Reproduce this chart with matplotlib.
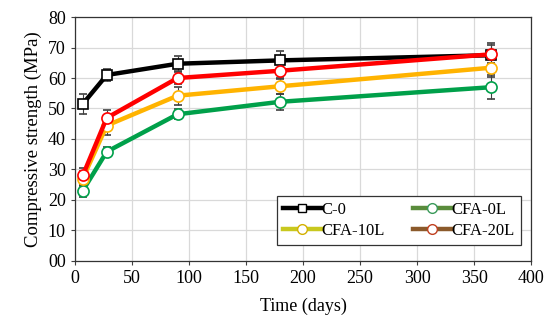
import numpy as np
import matplotlib.pyplot as plt
from matplotlib.lines import Line2D

plt.rcParams['font.family'] = ['Liberation Serif', 'DejaVu Serif']

days = [7, 28, 90, 180, 365]

c0 = [51.5, 61.0, 64.7, 65.8, 67.5]
c0_err = [3.2, 2.0, 2.5, 3.2, 4.0]
cfa0 = [23.0, 35.8, 48.1, 52.2, 57.0]
cfa0_err = [2.0, 1.5, 1.7, 2.7, 3.9]
cfa10 = [27.0, 44.4, 54.2, 57.3, 63.4]
cfa10_err = [2.5, 3.2, 3.0, 2.5, 3.0]
cfa20 = [28.0, 46.9, 60.0, 62.4, 67.8]
cfa20_err = [2.5, 2.5, 2.0, 2.5, 3.0]

y_ticks = [0, 10, 20, 30, 40, 50, 60, 70, 80]
y_labels = ['00', '10', '20', '30', '40', '50', '60', '70', '80']

fig = plt.figure(figsize=(5.5, 3.3), dpi=100)
ax = fig.add_axes([0.136, 0.21, 0.83, 0.738])

series = [
    (c0, c0_err, '#000000', 's'),
    (cfa0, cfa0_err, '#00a04a', 'o'),
    (cfa10, cfa10_err, '#ffb300', 'o'),
    (cfa20, cfa20_err, '#ff0000', 'o'),
]
for vals, err, col, mk in series:
    ax.errorbar(days, vals, yerr=err, color=col, lw=3.2, marker=mk,
                ms=8 if mk == 'o' else 7, mfc='white', mec=col, mew=1.2,
                ecolor='#404040', elinewidth=0.8, capsize=3, capthick=0.8,
                zorder=3)

ax.set_xlim(0, 400)
ax.set_ylim(0, 80)
ax.set_xticks(np.arange(0, 401, 50))
ax.set_yticks(y_ticks)
ax.set_yticklabels(y_labels)
ax.grid(True, color='#d9d9d9', lw=0.9)
ax.set_axisbelow(True)
ax.tick_params(labelsize=13, length=3, width=0.8, direction='out', color='#404040')
for s in ax.spines.values():
    s.set_color('#333333')
    s.set_linewidth(0.9)
ax.set_xlabel('Time (days)', fontsize=13, labelpad=8)
ax.set_ylabel('Compressive strength (MPa)', fontsize=13.5, labelpad=4)

# legend shows its own colours in the source picture
def handle(col, mk, mec):
    return Line2D([], [], color=col, lw=3.2, marker=mk, ms=7 if mk == 'o' else 6,
                  mfc='white', mec=mec, mew=1.0)

handles = [handle('#000000', 's', '#000000'), handle('#c8c81e', 'o', '#d4b000'),
           handle('#5a8c3c', 'o', '#3a9a5a'), handle('#8b5a2b', 'o', '#c04020')]
labels = ['C-0', 'CFA-10L', 'CFA-0L', 'CFA-20L']
leg = ax.legend(handles, labels, ncol=2, loc='lower right', bbox_to_anchor=(0.995, 0.03),
                fontsize=12, fancybox=False, framealpha=1, edgecolor='#333333',
                handlelength=2.3, handletextpad=0.0, columnspacing=1.7,
                borderpad=0.35, labelspacing=0.3)
leg.get_frame().set_linewidth(0.9)

fig.savefig('out.png', dpi=100)
